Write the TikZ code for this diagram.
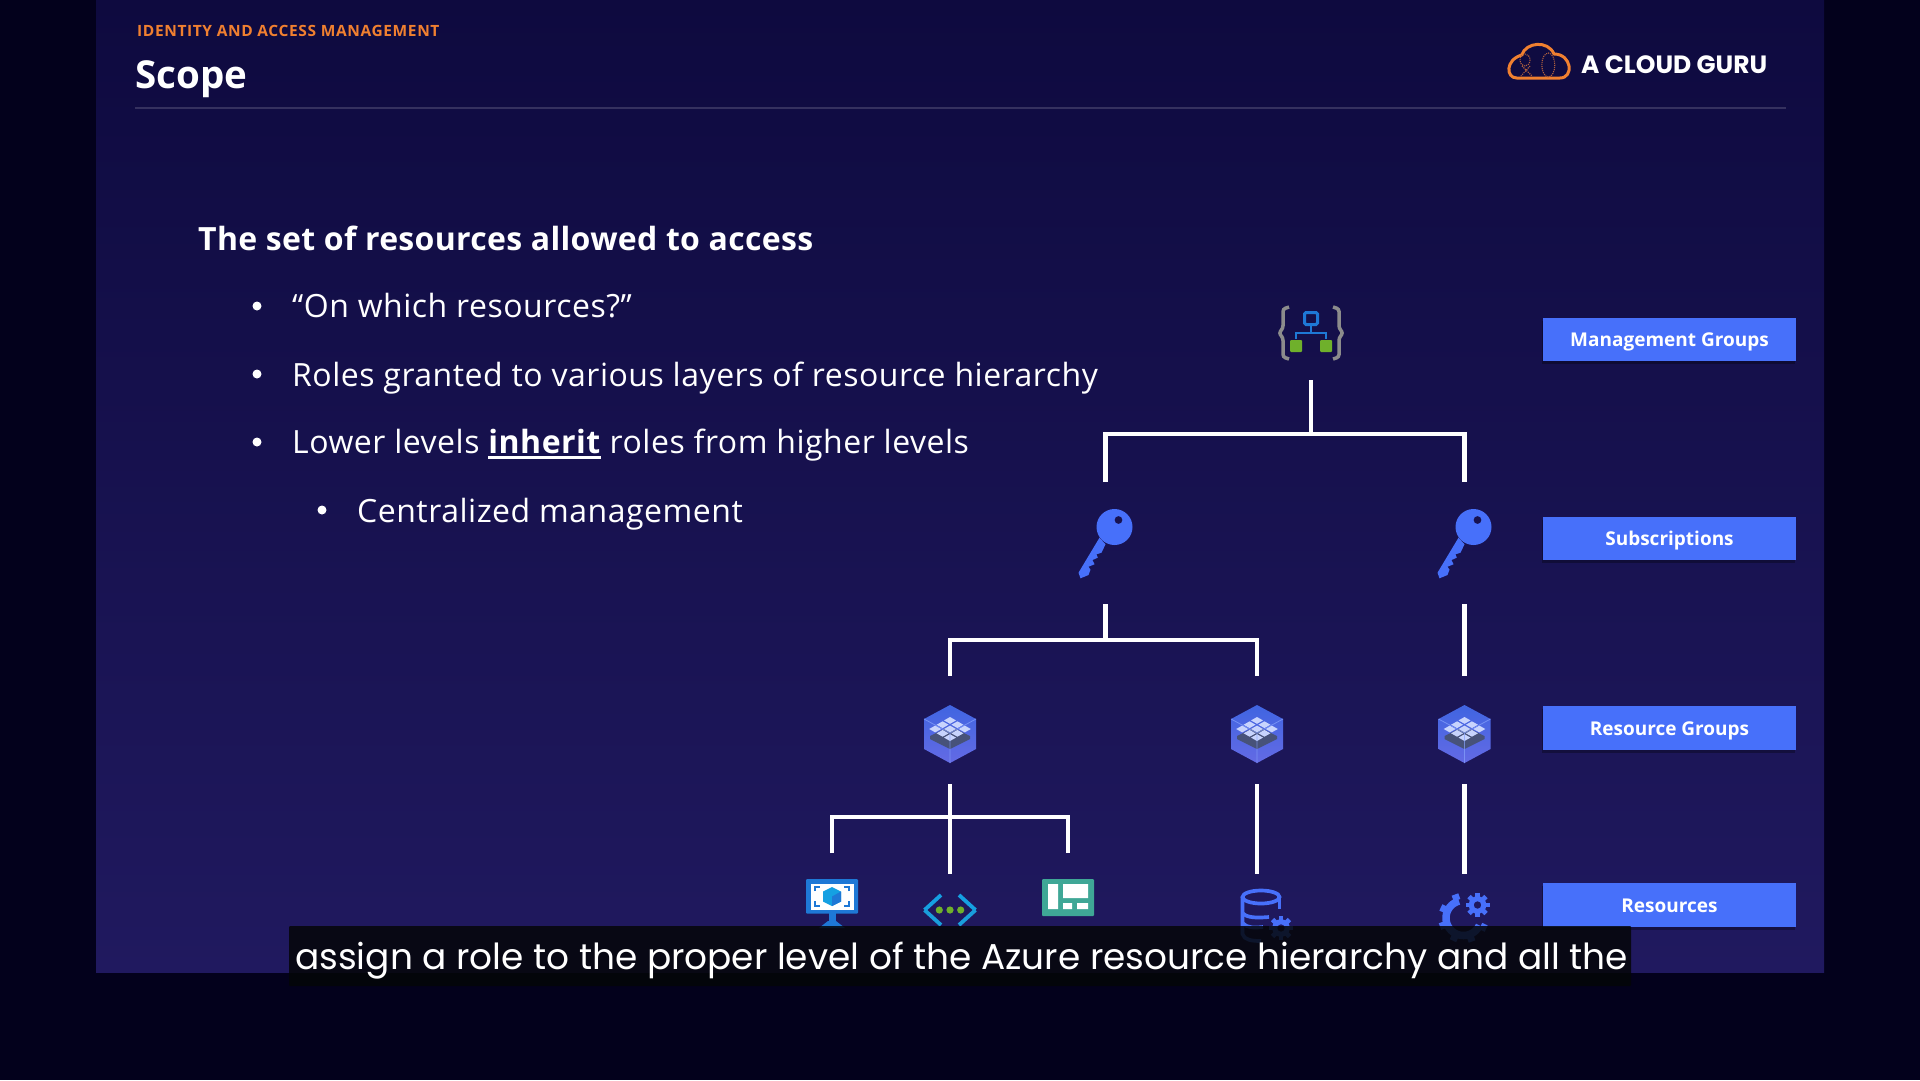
\documentclass[tikz,border=0pt]{standalone}
\usepackage{fontspec}
\usepackage{xcolor}
\usetikzlibrary{shadows}
\setmainfont{Open Sans}
\newfontfamily\capfont{Poppins}
\definecolor{outerc}{HTML}{03011C}
\definecolor{topc}{HTML}{0E0A3F}
\definecolor{lowc}{HTML}{20195F}
\definecolor{tagc}{HTML}{4770FA}
\definecolor{orangec}{HTML}{F08030}
\definecolor{rulec}{HTML}{35315F}
\definecolor{azurec}{HTML}{1E78D6}
\definecolor{leafc}{HTML}{6FB02B}
\definecolor{tealc}{HTML}{3FA796}
\definecolor{stripc}{HTML}{040608}
\newcommand{\InhWord}[1]{\setbox0\hbox{#1}\rlap{\rule[-6pt]{\wd0}{2.6pt}}\box0\relax}

\begin{document}
\begin{tikzpicture}[x=1pt,y=-1pt]
    \tikzset{Link/.style={%
            draw=white,%
            line width=4.5pt,%
        }}
    \tikzset{Tag/.style={%
            shape=rectangle,%
            fill=tagc,%
            text=white,%
            minimum width=253pt,%
            minimum height=43.5pt,%
            inner sep=0pt,%
            text height=19pt,%
            text depth=4.4pt,%
            font=\fontsize{19}{24}\selectfont\bfseries,%
            drop shadow={shadow xshift=-1pt,shadow yshift=-3pt,opacity=.3,fill=black},%
        }}
    \tikzset{IconBox/.style={%
            shape=rectangle,%
            inner sep=0pt,%
            outer sep=0pt,%
            minimum width=60pt,%
        }}
    \tikzset{Line/.style={%
            anchor=base west,%
            inner sep=0pt,%
            text=white,%
            font=\fontsize{32}{36}\selectfont\addfontfeatures{LetterSpace=1.6},%
        }}
    \tikzset{Dot/.style={%
            shape=circle,%
            fill=white,%
            inner sep=0pt,%
            minimum size=9pt,%
        }}
    \tikzset{keyicon/.pic={%
            \begin{scope}[shift={(9,-16)}]
                \fill[tagc] (-15,10.7) -- (-36,45.7) -- (-34,51.3) -- (-26,48) -- (-24,42.7) -- (-26,39.7)
                    -- (-20,37.3) -- (-22,33) -- (-16.7,30.7) -- (-18,27.3) -- (-13,25.7) -- (-9,17.3) -- cycle;
                \fill[tagc,even odd rule] (0,0) circle[radius=18] (4,-7) circle[radius=4];
            \end{scope}
        }}
    \tikzset{hexicon/.pic={%
            \shade[top color=tagc!90!black,bottom color=tagc!80!violet!90!white]
                (0,-29) -- (26,-15) -- (26,15) -- (0,29) -- (-26,15) -- (-26,-15) -- cycle;
            \fill[black!65!tagc!80!white] (-20,2) -- (0,-8) -- (20,2) -- (20,5) -- (0,15) -- (-20,5) -- cycle;
            \foreach \i in {-1,0,1}
                \foreach \j in {-1,0,1}
                    \fill[white!70!tagc] ({(\i-\j)*7.4-6},{(\i+\j)*4.3-5}) -- ++(6,-3.4) -- ++(6,3.4)
                        -- ++(-6,3.4) -- ++(-6,-3.4) -- cycle;
            \draw[white!35!tagc,line width=.8pt,opacity=.7] (-26,-15) -- (0,-1) -- (26,-15) (0,-1) -- (0,29);
        }}
    \tikzset{gearicon/.pic={%
            \fill[tagc,even odd rule] (0,0) circle[radius=8.8] (0,0) circle[radius=3.8];
            \foreach \a in {0,45,...,315}
                \fill[tagc,rotate=\a] (7.5,-2.4) rectangle (12,2.4);
        }}

    % page and slide
    \fill[outerc] (0,0) rectangle (1920,1080);
    \shade[top color=topc,bottom color=lowc] (96,0) rectangle (1824,972);

    % header
    \node[Line,text=orangec,font=\fontsize{15.5}{18}\selectfont\bfseries\addfontfeatures{LetterSpace=4}] (eyebrow) at (137,36.5) {IDENTITY AND ACCESS MANAGEMENT};
    \node[Line,font=\fontsize{38.5}{44}\selectfont\bfseries] (title) at (135,88.5) {Scope};
    \draw[rulec,line width=2pt] (135,108) -- (1786,108);
    \draw[orangec,line width=3pt,line join=round]
        (1516.7,78) .. controls (1506,78) and (1505,60) .. (1521.7,55)
        .. controls (1526,42) and (1548,40) .. (1554,54)
        .. controls (1572,54) and (1574,78) .. (1560,78) -- cycle;
    \draw[orangec!70!lowc,line width=1.1pt,densely dotted] (1548.3,65) ellipse[x radius=6.5,y radius=12];
    \draw[orangec!70!lowc,line width=1.1pt,densely dotted] (1525,60) ellipse[x radius=5,y radius=6] (1522,66) -- (1532,76) (1530,66) -- (1521,76);
    \node[Line,font=\capfont\fontsize{25}{28}\selectfont\bfseries] (brand) at (1581,73) {A CLOUD GURU};

    % bullets
    \node[Line,font=\fontsize{32}{36}\selectfont\bfseries\addfontfeatures{LetterSpace=1}] (lead) at (198,250) {The set of resources allowed to access};
    \node[Dot] (dot1) at (257,306) {};
    \node[Dot] (dot2) at (257,374) {};
    \node[Dot] (dot3) at (257,442) {};
    \node[Dot] (dot4) at (322,510) {};
    \node[Line] (item1) at (292,317) {“On which resources?”};
    \node[Line] (item2) at (292,386) {Roles granted to various layers of resource hierarchy};
    \node[Line] (item3) at (292,453) {Lower levels \InhWord{\textbf{inherit}} roles from higher levels};
    \node[Line] (item4) at (357,522) {Centralized management};

    % hierarchy
    \node[IconBox,minimum height=94pt] (mgmt) at (1311,333) {};
    \node[IconBox,minimum height=122pt] (key1) at (1105.5,543) {};
    \node[IconBox,minimum height=122pt] (key2) at (1464.5,543) {};
    \node[IconBox,minimum height=108pt] (rg1) at (950,730) {};
    \node[IconBox,minimum height=108pt] (rg2) at (1257,730) {};
    \node[IconBox,minimum height=108pt] (rg3) at (1464.5,730) {};
    \node[IconBox,minimum height=74pt] (vm) at (832,890) {};
    \node[IconBox,minimum height=72pt] (net) at (950,910) {};
    \node[IconBox,minimum height=74pt] (dash) at (1068,890) {};
    \node[IconBox,minimum height=76pt] (db) at (1257,912) {};
    \node[IconBox,minimum height=76pt] (cog) at (1464.5,912) {};

    \coordinate (bus1) at (1311,434);
    \coordinate (bus2) at (1105.5,640);
    \coordinate (bus3) at (950,817);

    \draw[Link] (mgmt.south) -- (bus1);
    \draw[Link] (key1.north) |- (bus1);
    \draw[Link] (key2.north) |- (bus1);
    \draw[Link] (key1.south) -- (bus2);
    \draw[Link] (rg1.north) |- (bus2);
    \draw[Link] (rg2.north) |- (bus2);
    \draw[Link] (key2.south) -- (rg3.north);
    \draw[Link] (rg1.south) -- (net.north);
    \draw[Link] (vm.north) |- (bus3);
    \draw[Link] (dash.north) |- (bus3);
    \draw[Link] (rg2.south) -- (db.north);
    \draw[Link] (rg3.south) -- (cog.north);

    % management group icon
    \begin{scope}[shift={(mgmt.center)}]
        \foreach \s in {1,-1}
            \draw[black!45!white,line width=3.5pt,rounded corners=2.5pt,xscale=\s]
                (-22,-26) -- (-28,-24) -- (-28,-5) -- (-32,0) -- (-28,5) -- (-28,24) -- (-22,26);
        \draw[azurec,line width=3pt,rounded corners=1.5pt] (-6.5,-20.5) rectangle (6.5,-8.5);
        \draw[azurec,line width=2.5pt] (0,-8) -- (0,0) (-15,6) -- (-15,0) -- (15,0) -- (15,6);
        \fill[leafc,rounded corners=1pt] (-21,7) rectangle (-9,19) (9,7) rectangle (21,19);
    \end{scope}

    \pic at (key1) {keyicon};
    \pic at (key2) {keyicon};
    \foreach \n in {rg1,rg2,rg3}
        \pic at ([yshift=-4pt]\n.center) {hexicon};

    % resource icons
    \begin{scope}[shift={(vm.center)}]
        \fill[azurec] (-3.5,22) rectangle (3.5,33);
        \fill[azurec] (-13,38) -- (-4,31) -- (4,31) -- (13,38) -- cycle;
        \fill[azurec,rounded corners=1pt] (-26,-11) rectangle (26,23.5);
        \fill[white] (-21.5,-6.5) rectangle (21.5,19.5);
        \draw[azurec,line width=1.6pt] (-17,1) -- (-17,-3) -- (-12,-3) (17,1) -- (17,-3) -- (12,-3)
            (-17,11) -- (-17,16) -- (-12,16) (17,11) -- (17,16) -- (12,16);
        \fill[azurec!70!cyan] (0,-3) -- (9,1.5) -- (9,11.5) -- (0,16) -- (-9,11.5) -- (-9,1.5) -- cycle;
        \fill[azurec] (0,6.5) -- (9,1.5) -- (9,11.5) -- (0,16) -- cycle;
    \end{scope}
    \begin{scope}[shift={(net.center)}]
        \draw[azurec!70!cyan,line width=3.8pt] (-9,-15) -- (-25.5,0) (9,-15) -- (25.5,0);
        \draw[cyan!70!azurec,line width=3.8pt] (-25.5,0) -- (-9,15) (25.5,0) -- (9,15);
        \foreach \x in {-10.7,0,10.7}
            \fill[leafc] (\x,0) circle[radius=3.6];
    \end{scope}
    \begin{scope}[shift={(dash.center)}]
        \fill[tealc,rounded corners=1pt] (-26,-11) rectangle (26,26);
        \fill[white] (-20,-6) rectangle (-10,19) (-5,-6) rectangle (20,8) (-5,13) rectangle (4,19) (9,13) rectangle (20,19);
    \end{scope}
    \begin{scope}[shift={(db.center)}]
        \draw[tagc,line width=3.7pt] (4,-15) ellipse[x radius=18.5,y radius=6.5];
        \draw[tagc,line width=3.7pt] (-14.5,-15) -- (-14.5,22) .. controls (-13,28) and (-5,29) .. (4,29);
        \draw[tagc,line width=3.7pt] (22.5,-15) -- (22.5,-3);
        \draw[tagc,line width=3.7pt] (-14.5,1) .. controls (-10,6) and (0,6) .. (12,5);
        \draw[tagc,line width=3.7pt] (-14.5,11) .. controls (-10,16) and (-3,16) .. (6,15);
        \pic at (24,16) {gearicon};
    \end{scope}
    \begin{scope}[shift={(cog.center)}]
        \draw[tagc,line width=7.5pt] plot[domain=25:255,samples=40] ({-1+17.5*cos(\x)},{6+17.5*sin(\x)});
        \foreach \a in {25,70,115,160,205,250}
            \fill[tagc,shift={(-1,6)},rotate=-\a] (19,-3.5) rectangle (25,3.5);
        \pic at (13,-7) {gearicon};
    \end{scope}

    % tags
    \node[Tag] (tagmg) at (1669.5,339.5) {Management Groups};
    \node[Tag] (tagsub) at (1669.5,538.5) {Subscriptions};
    \node[Tag] (tagrg) at (1669.5,728) {Resource Groups};
    \node[Tag] (tagres) at (1669.5,905) {Resources};

    % caption strip
    \fill[stripc,fill opacity=.85,rounded corners=1pt] (289,926) rectangle (1631,986);
    \node[Line,font=\capfont\fontsize{35.9}{40}\selectfont] (caption) at (295,969) {assign a role to the proper level of the Azure resource hierarchy and all the};
\end{tikzpicture}
\end{document}
